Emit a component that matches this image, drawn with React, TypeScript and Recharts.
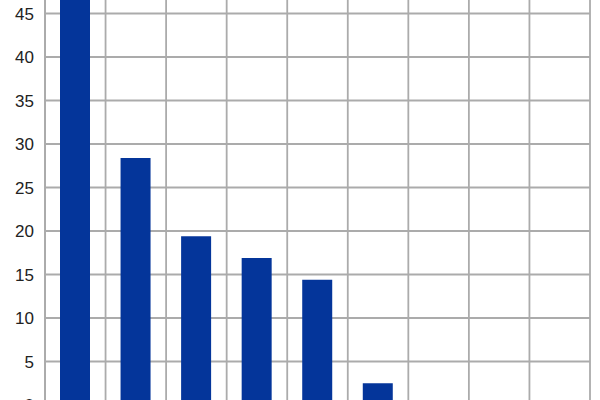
import React from "react";
import { BarChart, Bar, XAxis, YAxis, CartesianGrid } from "recharts";

const categories = ["1", "2", "3", "4", "5", "6", "7", "8", "9"];
const values = [49, 28.4, 19.4, 16.9, 14.4, 2.5, 0.3, 0.3, 0];
const yTicks = [0, 5, 10, 15, 20, 25, 30, 35, 40, 45];
const gridBounds = [0, 1, 2, 3, 4, 5, 6, 7, 8, 9];

const data = categories.map((c, i) => ({ name: c, value: values[i] }));

export default function App() {
  return (
    <div style={{ position: "absolute", left: 0, top: -30, background: "#fff" }}>
      <BarChart
        width={600}
        height={500}
        data={data}
        margin={{ top: 0, right: 10, bottom: 65, left: 0 }}
        barSize={30}
      >
        <CartesianGrid
          stroke="#ababab"
          strokeWidth={1.8}
          xAxisId="grid"
          verticalCoordinatesGenerator={({ offset }: any) =>
            gridBounds.map((b) => offset.left + (b * offset.width) / categories.length)
          }
        />
        <XAxis dataKey="name" hide />
        <XAxis xAxisId="grid" type="number" domain={[0, 9]} ticks={gridBounds} hide />
        <YAxis
          width={45}
          domain={[0, 50]}
          ticks={yTicks}
          interval={0}
          tickLine={false}
          axisLine={{ stroke: "#ababab", strokeWidth: 1.8 }}
          tickMargin={5}
          tick={{ fill: "#222", fontSize: 17, fontFamily: "Liberation Sans, Arial, sans-serif" }}
        />
        <Bar dataKey="value" fill="#04359a" isAnimationActive={false} />
      </BarChart>
    </div>
  );
}
